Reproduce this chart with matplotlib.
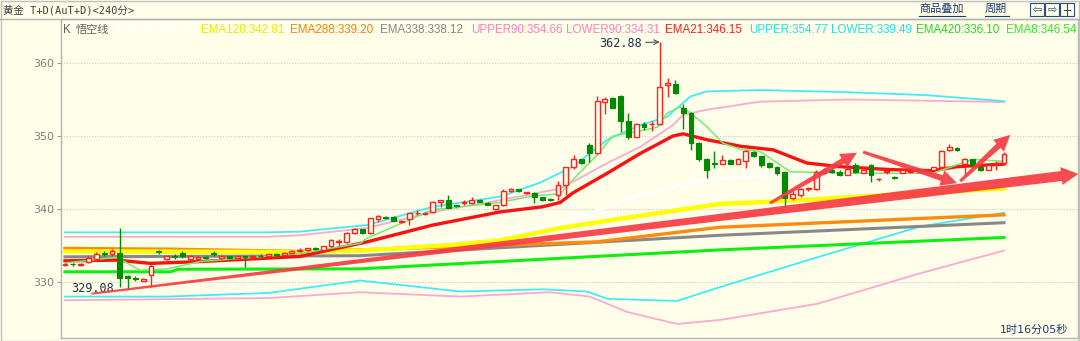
import numpy as np
import matplotlib
matplotlib.use('Agg')
import matplotlib.pyplot as plt
from matplotlib.patches import Polygon, Rectangle
from matplotlib.transforms import IdentityTransform

plt.rcParams['font.family'] = ['DejaVu Sans', 'Noto Sans CJK SC']

BG = '#fefee9'
RED = '#ff2020'
GREEN = '#008a00'

# ---- K line (240 min bars) ----
opens = [332.3, 332.5, 332.3, 332.8, 333.2, 334.0, 333.8, 334.0, 330.8, 330.6,
         330.2, 331.0, 334.2, 333.1, 333.5, 334.0, 333.1, 333.2, 333.4, 334.0,
         333.3, 333.5, 333.3, 333.5, 333.4, 333.6, 333.5, 333.8, 333.7, 334.0,
         334.3, 334.4, 334.6, 334.4, 334.9, 335.5, 335.5, 336.7, 337.2, 336.7,
         338.6, 338.9, 338.9, 338.2, 338.6, 339.4, 339.35, 339.6, 340.9, 341.3,
         340.5, 340.85, 340.8, 341.25, 340.85, 340.0, 340.5, 342.4, 342.7, 342.2,
         342.2, 341.6, 341.4, 341.9, 343.3, 345.7, 346.8, 348.8, 347.7, 354.7,
         355.2, 355.5, 352.0, 349.9, 351.6, 351.6, 351.6, 357.0, 357.1, 353.8,
         353.1, 349.1, 346.9, 346.25, 346.2, 346.7, 346.2, 346.6, 347.85, 347.2,
         346.3, 345.8, 345.0, 341.5, 341.9, 342.7, 342.8, 345.0, 345.4, 345.1,
         344.7, 346.0, 345.0, 346.0, 344.05, 345.05, 344.35, 345.0, 345.1, 345.2,
         345.3, 345.3, 345.8, 348.1, 348.4, 346.2, 346.8, 345.7, 345.4, 346.2,
         346.3]
highs = [332.6, 332.6, 332.6, 333.5, 334.1, 334.3, 334.5, 337.4, 331.0, 330.8,
         330.5, 332.4, 334.4, 333.6, 333.8, 334.3, 333.7, 333.6, 333.5, 334.2,
         333.6, 333.6, 333.6, 333.6, 333.7, 333.8, 333.9, 334.0, 334.1, 334.4,
         334.6, 334.7, 334.8, 335.0, 335.9, 335.9, 336.8, 337.4, 337.3, 338.8,
         339.2, 339.0, 339.0, 338.5, 339.5, 339.8, 339.6, 341.1, 341.3, 341.9,
         340.6, 341.2, 341.6, 341.4, 341.0, 340.6, 342.7, 342.9, 342.8, 342.3,
         342.3, 341.7, 341.5, 343.9, 345.8, 347.4, 346.9, 349.0, 355.5, 355.3,
         355.3, 355.6, 353.1, 351.8, 351.9, 352.0, 362.88, 358.0, 357.7, 354.4,
         353.3, 349.2, 347.0, 348.0, 347.4, 346.8, 347.0, 348.1, 348.0, 347.3,
         346.5, 345.9, 345.2, 342.4, 342.9, 343.0, 345.3, 345.6, 345.6, 345.3,
         345.7, 346.3, 345.4, 346.1, 344.2, 345.4, 344.5, 345.5, 345.4, 345.5,
         345.5, 345.8, 348.1, 348.9, 348.5, 347.0, 346.9, 345.8, 346.1, 346.6,
         347.8]
lows = [332.2, 332.2, 332.2, 332.6, 333.0, 333.6, 333.6, 329.3, 329.08, 330.2,
        330.1, 329.3, 333.9, 333.0, 333.2, 333.3, 333.0, 333.1, 333.1, 333.5,
        333.2, 333.2, 333.2, 332.1, 333.3, 333.4, 333.4, 333.6, 333.6, 333.9,
        334.1, 334.3, 334.4, 334.3, 334.8, 335.0, 335.3, 336.6, 336.6, 336.6,
        338.2, 338.6, 338.3, 338.1, 337.8, 339.2, 339.2, 339.5, 340.3, 340.1,
        340.3, 340.6, 340.7, 340.9, 340.5, 339.9, 340.4, 342.3, 342.3, 342.1,
        340.8, 341.1, 341.1, 341.3, 341.9, 345.5, 346.2, 346.4, 347.5, 353.0,
        353.8, 350.6, 349.6, 349.8, 350.8, 350.7, 351.5, 355.4, 355.8, 351.0,
        348.1, 346.6, 344.3, 345.6, 346.1, 346.1, 346.1, 345.6, 347.1, 345.8,
        345.6, 344.6, 340.2, 341.2, 341.7, 342.5, 342.6, 344.8, 345.0, 344.5,
        344.6, 345.0, 344.9, 343.7, 343.9, 344.8, 344.1, 344.9, 344.9, 345.0,
        345.1, 345.2, 345.6, 347.9, 348.0, 344.6, 345.8, 345.2, 345.3, 345.4,
        346.2]
closes = [332.4, 332.4, 332.4, 333.3, 333.9, 333.8, 334.3, 330.5, 330.6, 330.4,
          330.35, 332.2, 334.1, 333.5, 333.4, 333.5, 333.5, 333.4, 333.3, 333.9,
          333.5, 333.3, 333.5, 333.4, 333.6, 333.5, 333.8, 333.7, 334.0, 334.3,
          334.4, 334.6, 334.5, 334.9, 335.75, 335.55, 336.7, 337.2, 336.7, 338.7,
          339.0, 338.7, 338.4, 338.35, 339.4, 339.5, 339.45, 341.0, 341.3, 340.2,
          340.35, 340.95, 341.3, 341.0, 340.6, 340.5, 342.5, 342.7, 342.4, 342.2,
          341.7, 341.3, 341.2, 343.3, 345.7, 346.8, 346.3, 347.7, 354.8, 355.0,
          353.9, 352.0, 349.9, 351.6, 351.2, 351.7, 356.75, 357.3, 355.9, 353.1,
          349.1, 346.8, 345.3, 346.15, 346.7, 346.2, 346.9, 347.9, 347.25, 346.0,
          345.8, 345.0, 341.5, 342.0, 342.7, 342.85, 345.1, 345.4, 345.1, 344.6,
          345.5, 345.1, 345.3, 344.66, 344.15, 345.15, 344.25, 345.4, 345.2, 345.3,
          345.35, 345.7, 348.0, 348.5, 348.1, 346.8, 346.0, 345.4, 346.0, 346.35,
          347.6]

# ---- indicator lines (bar index, value) ----
ema8_x = [0, 6.6, 9.6, 13, 17.3, 30, 37.7, 38.6, 47, 55.6, 59.8, 63.3, 64.9, 68, 70,
          73.5, 75.7, 76.9, 78.6, 79.9, 82, 84.1, 86.3, 88.8, 92.7, 100, 110.9, 116, 120]
ema8_y = [332.6, 333.4, 331.6, 331.8, 332.8, 333.9, 335.3, 336.0, 339.9, 340.9, 341.8,
          342.1, 344.0, 347.4, 350.0, 350.7, 351.2, 353.1, 354.0, 353.2, 351.3, 349.0,
          348.2, 347.9, 345.1, 344.9, 344.9, 346.8, 346.54]
ema21_x = [0, 6.6, 10.9, 17.3, 30, 38.6, 47, 55.6, 61, 63.3, 64.9, 69.3, 73.5, 77.7, 79,
           82, 86.3, 90.5, 94.8, 99, 105.4, 110.9, 114, 120]
ema21_y = [332.9, 333.0, 332.55, 332.8, 333.5, 335.5, 337.8, 339.6, 340.3, 340.9, 342.2,
           344.9, 347.6, 350.0, 350.3, 349.5, 348.6, 348.1, 346.3, 345.8, 345.4, 345.25,
           345.8, 346.15]
ema60_x = [0, 37.7, 49.6, 53.9, 63.3, 73.5, 82, 88.8, 100, 120]
ema60_y = [334.0, 334.5, 335.7, 336.4, 337.9, 342.0, 344.0, 344.6, 344.5, 344.4]
ema120_x = [0, 30, 37.7, 49.6, 55.6, 63.3, 71.8, 83.7, 90.1, 120]
ema120_y = [334.2, 334.1, 334.3, 335.1, 335.7, 337.4, 338.8, 340.7, 341.0, 342.81]
ema288_x = [0, 13, 30, 37.7, 68, 83.7, 120]
ema288_y = [334.6, 334.5, 334.2, 334.4, 335.5, 337.5, 339.2]
ema338_x = [0, 37.7, 83.7, 120]
ema338_y = [333.45, 333.6, 336.4, 338.12]
ema420_x = [0, 13.5, 14.5, 37.7, 83.7, 120]
ema420_y = [331.4, 331.4, 331.75, 331.8, 334.4, 336.1]
upper_x = [0, 26, 30, 38.6, 47, 55.6, 60.7, 64.9, 69.3, 73.5, 76.9, 79.9, 82, 88.8, 100, 110, 120]
upper_y = [336.8, 336.8, 336.9, 337.8, 340.3, 341.7, 343.6, 345.8, 349.5, 351.5, 352.6,
           355.4, 356.1, 356.3, 356.0, 355.6, 354.77]
lower_x = [0, 13, 26, 37.7, 50.5, 61.1, 66.7, 69.3, 78.2, 83.7, 96.5, 109.3, 120]
lower_y = [328.0, 328.0, 328.5, 330.2, 328.7, 329.0, 328.7, 327.7, 327.4, 329.3, 333.5,
           337.6, 339.49]
upper90_x = [0, 26, 30, 38.6, 47, 55.6, 63.3, 69.3, 73.5, 77.7, 79, 82, 88.8, 100, 120]
upper90_y = [336.2, 336.2, 336.4, 337.4, 339.6, 341.2, 342.8, 346.3, 348.5, 351.5, 352.9,
             353.6, 354.7, 355.0, 354.66]
lower90_x = [0, 26, 37.7, 50.5, 62, 67.1, 71.8, 78.2, 83.7, 96.1, 109.3, 120]
lower90_y = [327.5, 327.8, 328.6, 328.0, 328.6, 328.0, 325.9, 324.25, 324.8, 327.0,
             331.2, 334.31]

# ---- legend texts ----
legend_labels = ['EMA60:344.37', 'EMA120:342.81', 'EMA288:339.20', 'EMA338:338.12',
                 'UPPER90:354.66', 'LOWER90:334.31', 'EMA21:346.15', 'UPPER:354.77',
                 'LOWER:339.49', 'EMA420:336.10', 'EMA8:346.54']
legend_colors = ['#ffffff', '#eaea00', '#ff8000', '#888888', '#ff80c0', '#ff80c0',
                 '#ff2020', '#20e0f0', '#20e0f0', '#20dd20', '#30e830']
legend_px = [117, 201, 290, 380, 471, 566, 665, 749, 831, 916, 1006]

# hand drawn arrows: (x0, y0, x1, y1, tail px, shaft px, head width px, head len px)
arrows = [(3.4, 328.4, 129.5, 344.8, 2, 10, 18, 17),
          (90.1, 340.8, 101.2, 347.7, 3, 6, 16, 16),
          (102.0, 347.8, 114.0, 343.55, 3, 6, 16, 16),
          (114.4, 343.8, 120.8, 350.15, 3, 6, 16, 16)]

W, H = 1080, 341
fig = plt.figure(figsize=(W / 100, H / 100), dpi=100, facecolor=BG)
ax = fig.add_axes([61 / W, 3 / H, (1078 - 61) / W, (338 - 19) / H])
ax.set_facecolor(BG)
ax.set_xlim(-0.51, 129.46)
ax.set_ylim(330 - (338 - 282) / 7.3, 330 + (282 - 19) / 7.3)

ax.set_yticks([330, 340, 350, 360])
ax.set_xticks([])
ax.tick_params(axis='y', colors='#a0a0a0', labelcolor='#808080', labelsize=8, length=3, pad=2)
ax.grid(axis='y', color='#c8c8c8', linestyle=(0, (1, 1.5)), linewidth=0.8)
for s in ax.spines.values():
    s.set_color('#b4b4b4')
    s.set_linewidth(1)

# indicators
ax.plot(ema60_x, ema60_y, color='#ffffff', lw=2.2, zorder=2)
ax.plot(upper90_x, upper90_y, color='#ffa8d0', lw=1.3, zorder=2)
ax.plot(lower90_x, lower90_y, color='#ffa8d0', lw=1.3, zorder=2)
ax.plot(upper_x, upper_y, color='#40ecf8', lw=1.3, zorder=2)
ax.plot(lower_x, lower_y, color='#40ecf8', lw=1.3, zorder=2)
ax.plot(ema420_x, ema420_y, color='#10ee10', lw=2.2, zorder=2)
ax.plot(ema338_x, ema338_y, color='#888888', lw=2.2, zorder=2)
ax.plot(ema288_x, ema288_y, color='#ff8a10', lw=2.4, zorder=2)
ax.plot(ema120_x, ema120_y, color='#ffff00', lw=3.2, zorder=2)
ax.plot(ema21_x, ema21_y, color='#ff1010', lw=2.4, zorder=3)
ax.plot(ema8_x, ema8_y, color='#70ee70', lw=1.1, zorder=3)

# candles
o, h, l, c = map(np.array, (opens, highs, lows, closes))
x = np.arange(len(o))
up = c >= o
bottom = np.minimum(o, c)
height = np.maximum(np.abs(c - o), 0.08)
ax.vlines(x[up], l[up], h[up], color=RED, lw=1, zorder=4)
ax.vlines(x[~up], l[~up], h[~up], color=GREEN, lw=1, zorder=4)
ax.bar(x[up], height[up], bottom=bottom[up], width=0.62, facecolor=BG,
       edgecolor=RED, linewidth=1, zorder=5)
ax.bar(x[~up], height[~up], bottom=bottom[~up], width=0.62, facecolor=GREEN,
       edgecolor=GREEN, linewidth=0.8, zorder=5)

# high / low marks
hi = int(np.argmax(h))
lo = int(np.argmin(l))
ax.annotate(f'{h[hi]:.2f}', xy=(hi, h[hi]), xytext=(-13, -1), textcoords='offset points',
            ha='right', va='center', fontsize=8.5, color='#1a3050', family='DejaVu Sans Mono',
            arrowprops=dict(arrowstyle='->', color='#505050', lw=0.8, shrinkA=1, shrinkB=0))
ax.annotate(f'{l[lo]:.2f}', xy=(lo, l[lo]), xytext=(-10, 0), textcoords='offset points',
            ha='right', va='center', fontsize=8.5, color='#1a3050', family='DejaVu Sans Mono')


def fat_arrow(x0, y0, x1, y1, w0, w1, hw, hl):
    p0 = ax.transData.transform((x0, y0))
    p1 = ax.transData.transform((x1, y1))
    d = p1 - p0
    u = d / np.hypot(*d)
    n = np.array([-u[1], u[0]])
    b = p1 - u * hl
    pts = [p0 + n * w0 / 2, b + n * w1 / 2, b + n * hw / 2, p1,
           b - n * hw / 2, b - n * w1 / 2, p0 - n * w0 / 2]
    ax.add_patch(Polygon(pts, closed=True, transform=IdentityTransform(),
                         facecolor='#f83a44', edgecolor='none', alpha=0.92, zorder=7))


for a in arrows:
    fat_arrow(*a)

# header bar
fig.add_artist(plt.Line2D([0, 1], [1 - 18.5 / H, 1 - 18.5 / H], color='#b4b4b4', lw=1))
fig.add_artist(Rectangle((0.5 / W, 0.5 / H), 1 - 2 / W, 1 - 1.5 / H, fill=False,
                         edgecolor='#c0c0c0', lw=1))
fig.text(3 / W, 1 - 10 / H, '黄金 T+D(AuT+D)<240分>', fontsize=7.5, color='#404040',
         va='center', family=['DejaVu Sans Mono', 'Noto Sans CJK SC'])
for txt, x0, x1 in [('商品叠加', 919, 965), ('周期', 985, 1009)]:
    fig.text(x0 / W, 1 - 9 / H, txt, fontsize=8, color='#1c3a70', va='center',
             family=['Noto Sans CJK SC'])
    fig.add_artist(plt.Line2D([x0 / W, x1 / W], [1 - 16 / H, 1 - 16 / H], color='#1c3a70', lw=0.8))
for bx, sym in [(1030, '⇦'), (1045, '⇨'), (1060, '')]:
    fig.add_artist(Rectangle((bx / W, 1 - 16 / H), 14 / W, 13 / H, fill=False,
                             edgecolor='#2a4a80', lw=0.8))
    if sym:
        fig.text((bx + 7) / W, 1 - 9.5 / H, sym, fontsize=8, color='#2a4a80',
                 ha='center', va='center')
fig.add_artist(plt.Line2D([1064 / W, 1070 / W], [1 - 9.5 / H, 1 - 9.5 / H], color='#2a4a80', lw=0.8))
fig.add_artist(plt.Line2D([1067 / W, 1067 / W], [1 - 15 / H, 1 - 4 / H], color='#2a4a80', lw=0.8))

# legend line
fig.text(63 / W, 1 - 30 / H, 'K', fontsize=8.4, color='#606060', va='center',
         family=['Liberation Sans'])
fig.text(76 / W, 1 - 30 / H, '悟空线', fontsize=8, color='#606060', va='center',
         family=['Noto Sans CJK SC'])
for lab, col, px in zip(legend_labels, legend_colors, legend_px):
    fig.text(px / W, 1 - 30 / H, lab, fontsize=8.4, color=col, va='center',
             family=['Liberation Sans'])

fig.text(1000 / W, 1 - 330 / H, '1时16分05秒', fontsize=8, color='#1c3a70', va='center',
         family=['DejaVu Sans', 'Noto Sans CJK SC'])

fig.savefig('out.png', dpi=100, facecolor=BG)
